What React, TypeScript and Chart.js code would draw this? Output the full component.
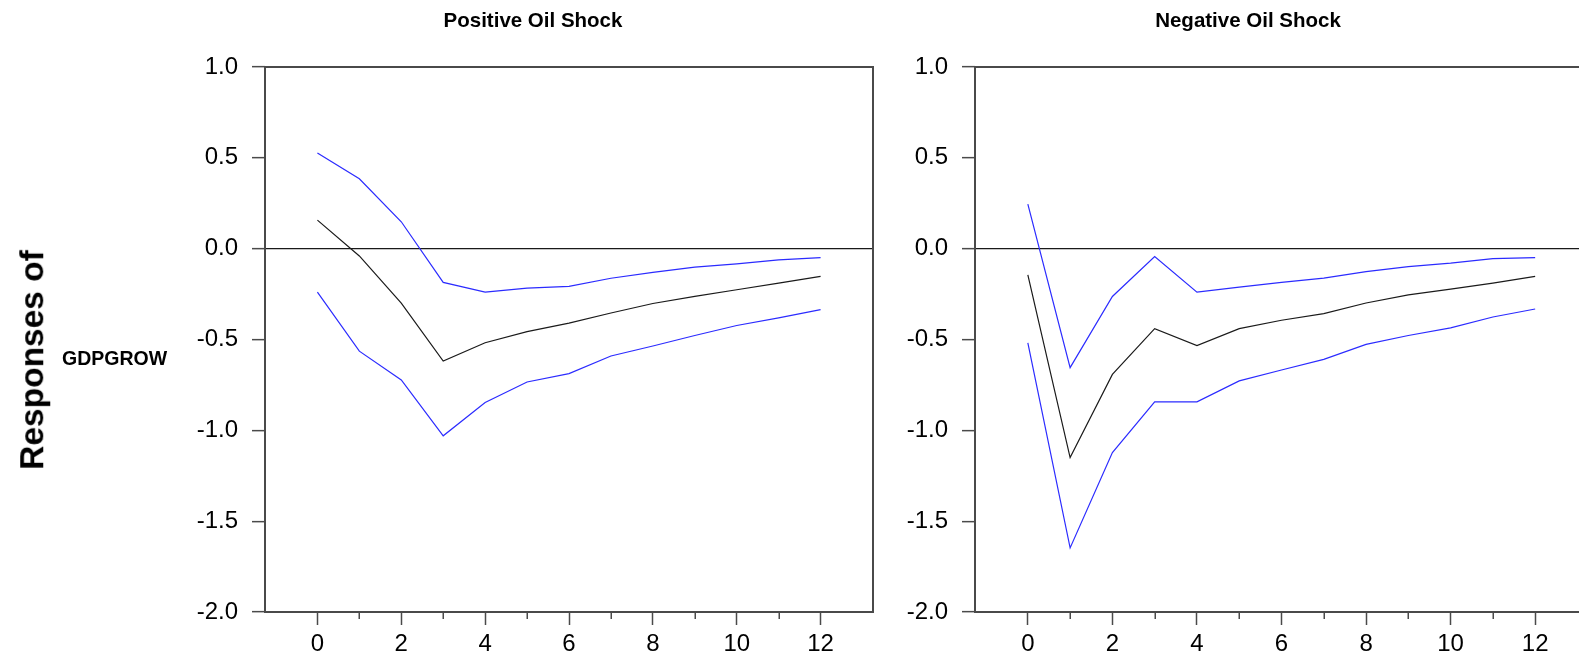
import React, { useEffect, useRef } from 'react';
import { Chart, registerables } from 'chart.js';

Chart.register(...registerables);

// ---- data ----
const HORIZON = [0, 1, 2, 3, 4, 5, 6, 7, 8, 9, 10, 11, 12];

const POS_RESPONSE = [0.157, -0.04, -0.30, -0.619, -0.518, -0.457, -0.410, -0.354, -0.302, -0.263, -0.226, -0.190, -0.153];
const POS_UPPER = [0.526, 0.385, 0.148, -0.186, -0.239, -0.217, -0.208, -0.163, -0.131, -0.102, -0.084, -0.062, -0.049];
const POS_LOWER = [-0.239, -0.564, -0.723, -1.03, -0.847, -0.734, -0.688, -0.591, -0.536, -0.478, -0.423, -0.381, -0.336];

const NEG_RESPONSE = [-0.144, -1.15, -0.692, -0.44, -0.533, -0.44, -0.394, -0.358, -0.299, -0.254, -0.223, -0.19, -0.153];
const NEG_UPPER = [0.245, -0.655, -0.263, -0.044, -0.239, -0.212, -0.186, -0.162, -0.126, -0.099, -0.080, -0.055, -0.049];
const NEG_LOWER = [-0.518, -1.647, -1.122, -0.843, -0.843, -0.728, -0.668, -0.609, -0.527, -0.478, -0.436, -0.376, -0.332];

const Y_TICKS = [-2, -1.5, -1, -0.5, 0, 0.5, 1];
const X_MAJOR_TICKS = [0, 2, 4, 6, 8, 10, 12];
const X_MINOR_TICKS = [1, 3, 5, 7, 9, 11];

const TITLES = ['Positive Oil Shock', 'Negative Oil Shock'];
const SIDE_TITLE = 'Responses of';
const VARIABLE = 'GDPGROW';

// ---- style ----
const FONT = "'Liberation Sans', Arial, Helvetica, sans-serif";
const FRAME = '#4a4a4a';
const ZERO = '#1a1a1a';
const BLUE = '#2b2bff';
const BLACK = '#1a1a1a';
const H = 655;
const TICK_FONT_SIZE = 24;

const framePlugin = {
  id: 'eviewsFrame',
  afterDraw(chart: any) {
    const { ctx, chartArea: a, scales } = chart;
    ctx.save();
    ctx.strokeStyle = FRAME;
    ctx.lineWidth = 2;
    ctx.beginPath();
    ctx.moveTo(a.left, a.top);
    ctx.lineTo(a.right, a.top);
    ctx.lineTo(a.right, a.bottom);
    ctx.lineTo(a.left, a.bottom);
    ctx.closePath();
    ctx.stroke();
    ctx.lineWidth = 1.5;
    ctx.beginPath();
    for (const v of X_MINOR_TICKS) {
      const x = Math.round(scales.x.getPixelForValue(v)) + 0.25;
      ctx.moveTo(x, a.bottom);
      ctx.lineTo(x, a.bottom + 7);
    }
    ctx.stroke();
    ctx.restore();
  },
};

function toPoints(vals: number[]) {
  return HORIZON.map((h, i) => ({ x: h, y: vals[i] }));
}

type PanelProps = {
  left: number;
  width: number;
  yAxisWidth: number;
  padRight: number;
  response: number[];
  upper: number[];
  lower: number[];
};

function Panel({ left, width, yAxisWidth, padRight, response, upper, lower }: PanelProps) {
  const ref = useRef<HTMLCanvasElement>(null);
  useEffect(() => {
    const mk = (vals: number[], color: string) => ({
      data: toPoints(vals),
      borderColor: color,
      borderWidth: 1.2,
      pointRadius: 0,
      tension: 0,
      fill: false,
    });
    const chart = new Chart(ref.current as HTMLCanvasElement, {
      type: 'line',
      data: {
        datasets: [mk(upper, BLUE), mk(lower, BLUE), mk(response, BLACK)],
      },
      options: {
        responsive: false,
        devicePixelRatio: 1,
        animation: false,
        layout: { padding: { left: 0, top: 67, right: padRight, bottom: 0 } },
        plugins: { legend: { display: false }, tooltip: { enabled: false }, title: { display: false } },
        scales: {
          x: {
            type: 'linear',
            min: -1.25,
            max: 13.25,
            bounds: 'data',
            afterBuildTicks: (s: any) => {
              s.ticks = X_MAJOR_TICKS.map((v) => ({ value: v }));
            },
            afterFit: (s: any) => {
              s.height = 43;
            },
            ticks: {
              font: { family: FONT, size: TICK_FONT_SIZE },
              color: '#000',
              padding: 5,
              maxRotation: 0,
              autoSkip: false,
              callback: (v: any) => String(v),
            },
            grid: {
              drawOnChartArea: false,
              drawTicks: true,
              tickLength: 13,
              tickWidth: 1.5,
              tickColor: FRAME,
            },
            border: { display: false },
          },
          y: {
            type: 'linear',
            min: -2,
            max: 1,
            bounds: 'data',
            afterBuildTicks: (s: any) => {
              s.ticks = Y_TICKS.map((v) => ({ value: v }));
            },
            afterFit: (s: any) => {
              s.width = yAxisWidth;
            },
            ticks: {
              font: { family: FONT, size: TICK_FONT_SIZE },
              color: '#000',
              padding: 14,
              autoSkip: false,
              callback: (v: any) => Number(v).toFixed(1),
            },
            grid: {
              drawTicks: true,
              tickLength: 13,
              tickWidth: 1.5,
              tickColor: FRAME,
              lineWidth: 1.3,
              color: (c: any) => (c.tick && c.tick.value === 0 ? ZERO : 'rgba(0,0,0,0)'),
            },
            border: { display: false },
          },
        },
      },
      plugins: [framePlugin],
    } as any);
    return () => chart.destroy();
  }, []);
  return (
    <canvas
      ref={ref}
      width={width}
      height={H}
      style={{ position: 'absolute', left, top: 0, width, height: H, display: 'block' }}
    />
  );
}

const titleStyle: React.CSSProperties = {
  position: 'absolute',
  top: 10,
  transform: 'translateX(-50%)',
  fontFamily: FONT,
  fontWeight: 'bold',
  fontSize: 20.5,
  lineHeight: 1,
  whiteSpace: 'nowrap',
  color: '#000',
};

export default function App() {
  return (
    <div
      style={{
        position: 'fixed',
        left: 0,
        top: 0,
        width: 1579,
        height: H,
        overflow: 'hidden',
        background: '#fff',
      }}
    >
      <Panel left={0} width={900} yAxisWidth={265} padRight={27} response={POS_RESPONSE} upper={POS_UPPER} lower={POS_LOWER} />
      <Panel left={900} width={700} yAxisWidth={75} padRight={12} response={NEG_RESPONSE} upper={NEG_UPPER} lower={NEG_LOWER} />
      <div style={{ ...titleStyle, left: 533 }}>{TITLES[0]}</div>
      <div style={{ ...titleStyle, left: 1248 }}>{TITLES[1]}</div>
      <div
        style={{
          position: 'absolute',
          left: 32,
          top: 360,
          transform: 'translate(-50%, -50%) rotate(-90deg)',
          fontFamily: FONT,
          fontWeight: 'bold',
          fontSize: 33.5,
          lineHeight: 1,
          whiteSpace: 'nowrap',
          color: '#000',
        }}
      >
        {SIDE_TITLE}
      </div>
      <div
        style={{
          position: 'absolute',
          left: 62,
          top: 349,
          fontFamily: FONT,
          fontWeight: 'bold',
          fontSize: 19.5,
          lineHeight: 1,
          whiteSpace: 'nowrap',
          color: '#000',
        }}
      >
        {VARIABLE}
      </div>
    </div>
  );
}
